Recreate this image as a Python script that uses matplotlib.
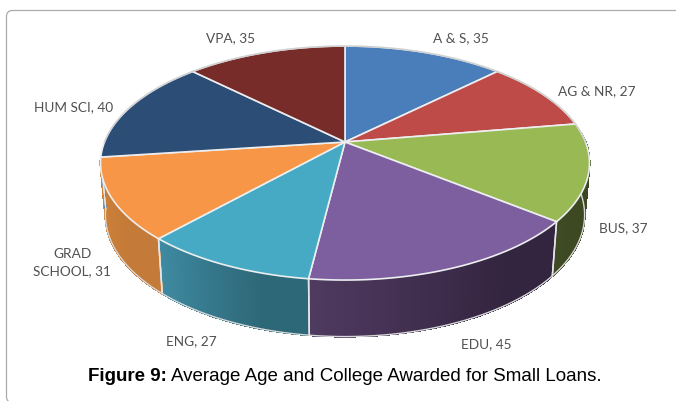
import numpy as np
import matplotlib
matplotlib.use("Agg")
import matplotlib.pyplot as plt
from matplotlib.patches import Polygon, FancyBboxPatch

categories = ["A & S", "AG & NR", "BUS", "EDU", "ENG", "GRAD\nSCHOOL", "HUM SCI", "VPA"]
values = [35, 27, 37, 45, 27, 31, 40, 35]
top_colors = ["#4A7EBB", "#BE4B48", "#98B954", "#7D5FA0", "#46AAC4", "#F79646", "#2C4D75", "#772C2A"]
side_left = ["#4A7EBB", "#BE4B48", "#3E4A22", "#4F3A60", "#3F8AA2", "#D08238", "#2C4D75", "#772C2A"]
side_right = ["#4A7EBB", "#BE4B48", "#3A4620", "#33243F", "#2D6878", "#C47A38", "#2C4D75", "#772C2A"]
label_xy = [(461, 38), (597, 91), (623, 228), (486, 344), (191, 341), (72, 262.5), (73.5, 107), (231, 38)]

W, H = 676, 402
CX, CY, A, B, K = 345.0, 143.0, 240.5, 113.2, 0.18
SX, SY, DEPTH = 0.98, 1.04, 51.0
WALL_FROM, WALL_TO = np.radians(85), np.radians(262.6)


def top(theta):
    u, v = np.sin(theta), np.cos(theta)
    w = 1 + K * v
    return A * u / w, -B * v / w


def tp(theta):
    x, y = top(theta)
    return np.column_stack([CX + x, CY + y])


def bt(theta):
    x, y = top(theta)
    return np.column_stack([CX + SX * x, CY + SY * y + DEPTH])


def lerp(c1, c2, t):
    a = np.array(matplotlib.colors.to_rgb(c1))
    b = np.array(matplotlib.colors.to_rgb(c2))
    return tuple(a + (b - a) * t)


fig = plt.figure(figsize=(W / 100, H / 100), dpi=100)
ax = fig.add_axes([0, 0, 1, 1])
ax.set_xlim(0, W)
ax.set_ylim(H, 0)
ax.axis("off")

ax.add_patch(FancyBboxPatch((6.5, 11.5), W + 40, 392, boxstyle="round,pad=0,rounding_size=6",
                            fc="white", ec="#ABABAB", lw=0.9, zorder=0))

edges = np.concatenate([[0], np.cumsum(values)]) / sum(values) * 2 * np.pi

# side wall
for i in range(len(values)):
    t0, t1 = edges[i], edges[i + 1]
    lo, hi = max(t0, WALL_FROM), min(t1, WALL_TO)
    if hi <= lo:
        continue
    n = max(int((hi - lo) * 80), 2)
    ts = np.linspace(lo, hi, n + 1)
    for j in range(n):
        a, b = ts[j], ts[j + 1]
        seg = np.vstack([tp(np.array([a, b])), bt(np.array([b, a]))])
        frac = (t1 - (a + b) / 2) / (t1 - t0)
        c = lerp(side_left[i], side_right[i], min(1, frac * 1.4))
        ax.add_patch(Polygon(seg, closed=True, fc=c, ec=c, lw=0.8, antialiased=False, zorder=2))
    for t in (t0, t1):
        if WALL_FROM < t < WALL_TO:
            p = np.vstack([tp(np.array([t])), bt(np.array([t]))])
            ax.plot(p[:, 0], p[:, 1], color="#E4E6E8", lw=1.1, zorder=3)

# bottom silhouette
ts = np.linspace(WALL_FROM, WALL_TO, 200)
p = bt(ts)
ax.plot(p[:, 0], p[:, 1], color="#D8D8D8", lw=1.0, zorder=3)

# top face
for i in range(len(values)):
    ts = np.linspace(edges[i], edges[i + 1], 120)
    poly = np.vstack([[CX, CY], tp(ts)])
    ax.add_patch(Polygon(poly, closed=True, fc=top_colors[i], ec="#ECEEF0", lw=1.2,
                         joinstyle="round", zorder=4))
ts = np.linspace(-np.pi / 2, np.pi / 2, 300)
p = tp(ts)
ax.plot(p[:, 0], p[:, 1], color="#D0D0D0", lw=1.1, zorder=5)

for name, val, (x, y) in zip(categories, values, label_xy):
    ax.text(x, y, f"{name}, {val}", ha="center", va="center", family="Lato",
            fontsize=9.8, color="#505050", linespacing=1.55, zorder=6)

fs = 13.5
t1 = ax.text(88, 377, "Figure 9:", ha="left", va="center", family="Liberation Sans",
             fontsize=fs, fontweight="bold", color="black")
fig.canvas.draw()
bb = t1.get_window_extent()
ax.text(bb.x1 + 3.8, 377, "Average Age and College Awarded for Small Loans.", ha="left", va="center",
        family="Liberation Sans", fontsize=fs, color="black")

fig.savefig("out.png", dpi=100)
